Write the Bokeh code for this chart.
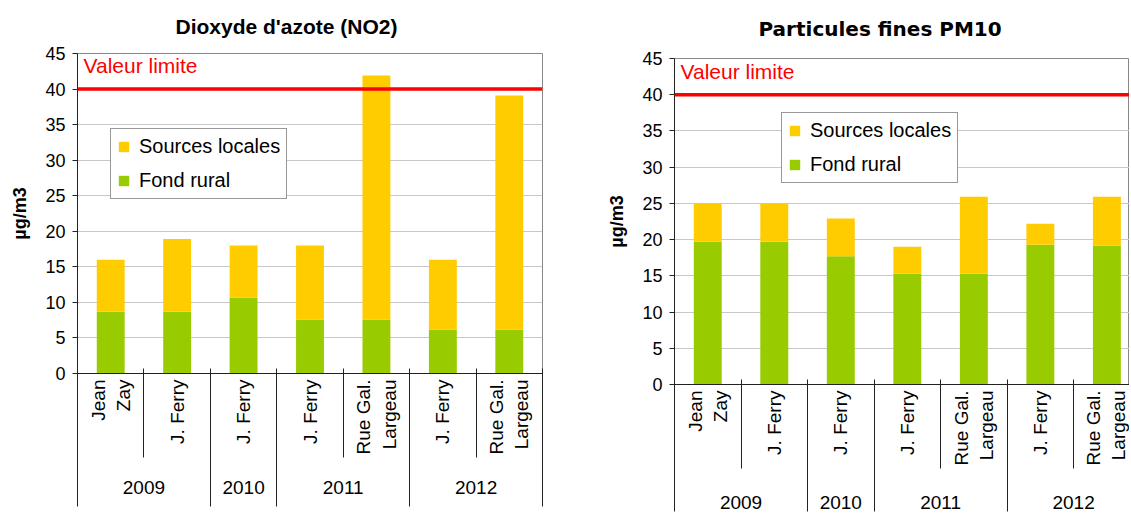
import math
from bokeh.plotting import figure
from bokeh.models import (Range1d, Span, Label, Legend, LegendItem, ColumnDataSource,
                          FixedTicker, LinearAxis)
from bokeh.layouts import row, column
from bokeh.embed import file_html
from bokeh.resources import INLINE

# ---------------- data ----------------
years = ["2009", "2009", "2010", "2011", "2011", "2012", "2012"]
sites = ["Jean\nZay", "J. Ferry", "J. Ferry", "J. Ferry", "Rue Gal.\nLargeau", "J. Ferry", "Rue Gal.\nLargeau"]

no2_fond_rural = [8.7, 8.7, 10.7, 7.6, 7.6, 6.2, 6.2]
no2_sources_locales = [7.3, 10.2, 7.3, 10.4, 34.3, 9.8, 32.9]

pm10_fond_rural = [19.7, 19.7, 17.7, 15.3, 15.3, 19.3, 19.2]
pm10_sources_locales = [5.3, 5.3, 5.2, 3.7, 10.6, 2.9, 6.7]

valeur_limite = 40
y_ticks = [0, 5, 10, 15, 20, 25, 30, 35, 40, 45]

# ---------------- style ----------------
FONT = "Liberation Sans"
GREEN = "#99CC00"
YELLOW = "#FFCC00"
RED = "#FF0000"
GRID = "#C8C8C8"
AXIS = "#222222"
OUTLINE = "#888888"

# category geometry derived from the category lists
n = len(sites)
centers = [i + 0.5 for i in range(n)]
boundaries = list(range(n + 1))
year_bounds = [0] + [i for i in range(1, n) if years[i] != years[i - 1]] + [n]
year_centers = [(a + b) / 2 for a, b in zip(year_bounds[:-1], year_bounds[1:])]
year_names = [years[a] for a in year_bounds[:-1]]


def make_chart(title, fond, local, width, height, b_left, b_right, b_top, b_bottom,
               title_offset, title_font, title_size, title_standoff, legend_loc, x_end,
               site_sep, year_sep, year_standoff, end_out):
    p = figure(x_range=Range1d(0, x_end), y_range=Range1d(0, y_ticks[-1]),
               width=width, height=height, output_backend="svg", toolbar_location=None,
               min_border_left=b_left, min_border_right=b_right,
               min_border_top=b_top, min_border_bottom=b_bottom, x_axis_type=None)
    p.background_fill_color = "white"
    p.border_fill_color = "white"
    p.outline_line_color = OUTLINE
    p.outline_line_width = 1

    src = ColumnDataSource(dict(x=centers, fond=fond, local=local))
    rs = p.vbar_stack(["fond", "local"], x="x", width=0.42, color=[GREEN, YELLOW],
                      line_color=None, source=src)

    # limit line + label
    p.add_layout(Span(location=valeur_limite, dimension="width", line_color=RED,
                      line_width=3.5))
    p.add_layout(Label(x=0, y=valeur_limite, x_offset=6, y_offset=12, text="Valeur limite",
                       text_color=RED, text_font=FONT, text_font_size="21px"))

    # title
    p.title.text = title
    p.title.align = "left"
    p.title.vertical_align = "top"
    p.title.offset = title_offset
    p.title.text_font = title_font
    p.title.text_font_size = title_size
    p.title.text_font_style = "bold"
    p.title.text_color = "black"
    p.title.standoff = title_standoff

    # y axis
    p.yaxis.ticker = FixedTicker(ticks=y_ticks)
    p.yaxis.axis_label = "µg/m3"
    p.yaxis.axis_label_text_font = FONT
    p.yaxis.axis_label_text_font_size = "18px"
    p.yaxis.axis_label_text_font_style = "bold"
    p.yaxis.axis_label_text_color = "black"
    p.yaxis.axis_label_standoff = 12
    p.yaxis.major_label_text_font = FONT
    p.yaxis.major_label_text_font_size = "18px"
    p.yaxis.major_label_text_color = "black"
    p.yaxis.major_label_standoff = 7
    p.yaxis.axis_line_color = AXIS
    p.yaxis.major_tick_line_color = AXIS
    p.yaxis.major_tick_out = 5
    p.yaxis.major_tick_in = 0
    p.yaxis.minor_tick_line_color = None

    p.ygrid.grid_line_color = GRID
    p.xgrid.grid_line_color = None

    # x axis 1: station names (the category axis line at y = 0)
    ax_site = LinearAxis(ticker=FixedTicker(ticks=centers),
                         major_label_overrides={c: s for c, s in zip(centers, sites)})
    ax_site.major_label_orientation = math.pi / 2
    ax_site.major_label_text_font = FONT
    ax_site.major_label_text_font_size = "19px"
    ax_site.major_label_text_color = "black"
    ax_site.major_label_standoff = 6
    ax_site.major_tick_out = 0
    ax_site.major_tick_in = 0
    ax_site.major_tick_line_color = None
    ax_site.minor_tick_line_color = None
    ax_site.axis_line_color = AXIS
    p.add_layout(ax_site, "below")

    # x axis 2: years; its inward ticks separate every station column
    ax_year = LinearAxis(ticker=FixedTicker(ticks=year_centers, minor_ticks=boundaries),
                         major_label_overrides={c: y for c, y in zip(year_centers, year_names)})
    ax_year.major_label_orientation = "horizontal"
    ax_year.major_label_text_font = FONT
    ax_year.major_label_text_font_size = "19px"
    ax_year.major_label_text_color = "black"
    ax_year.major_label_standoff = year_standoff
    ax_year.major_tick_out = 0
    ax_year.major_tick_in = 0
    ax_year.major_tick_line_color = None
    ax_year.minor_tick_out = 0
    ax_year.minor_tick_in = site_sep
    ax_year.minor_tick_line_color = AXIS
    ax_year.axis_line_color = None
    p.add_layout(ax_year, "below")

    # x axis 3: closing lines of the year blocks
    ax_end = LinearAxis(ticker=FixedTicker(ticks=[], minor_ticks=year_bounds))
    ax_end.major_tick_line_color = None
    ax_end.major_tick_out = 0
    ax_end.major_tick_in = 0
    ax_end.minor_tick_out = end_out
    ax_end.minor_tick_in = year_sep
    ax_end.minor_tick_line_color = AXIS
    ax_end.axis_line_color = None
    p.add_layout(ax_end, "below")

    legend = Legend(items=[LegendItem(label="Sources locales", renderers=[rs[1]]),
                           LegendItem(label="Fond rural", renderers=[rs[0]])],
                    location=legend_loc)
    legend.label_text_font = FONT
    legend.label_text_font_size = "20px"
    legend.label_text_color = "black"
    legend.glyph_height = 13
    legend.glyph_width = 13
    legend.label_standoff = 9
    legend.spacing = 11
    legend.padding = 6
    legend.margin = 0
    legend.border_line_color = "#333333"
    legend.border_line_width = 1
    legend.background_fill_color = "white"
    legend.background_fill_alpha = 1
    p.add_layout(legend, "center")
    return p


p1 = make_chart("Dioxyde d'azote (NO2)", no2_fond_rural, no2_sources_locales,
                width=598, height=513, b_left=77, b_right=56, b_top=53, b_bottom=140,
                title_offset=98, title_font=FONT, title_size="21px", title_standoff=28,
                legend_loc=(33, 174), x_end=n, site_sep=89, year_sep=60,
                year_standoff=23, end_out=10)
p2 = make_chart("Particules fines PM10", pm10_fond_rural, pm10_sources_locales,
                width=531, height=513, b_left=76, b_right=0, b_top=57, b_bottom=129,
                title_offset=84, title_font="DejaVu Sans", title_size="20px",
                title_standoff=32, legend_loc=(107, 201), x_end=6.84, site_sep=89,
                year_sep=60, year_standoff=27, end_out=0)

layout = row(column(p1), column(p2))
open("out.html", "w").write(file_html(layout, INLINE))
